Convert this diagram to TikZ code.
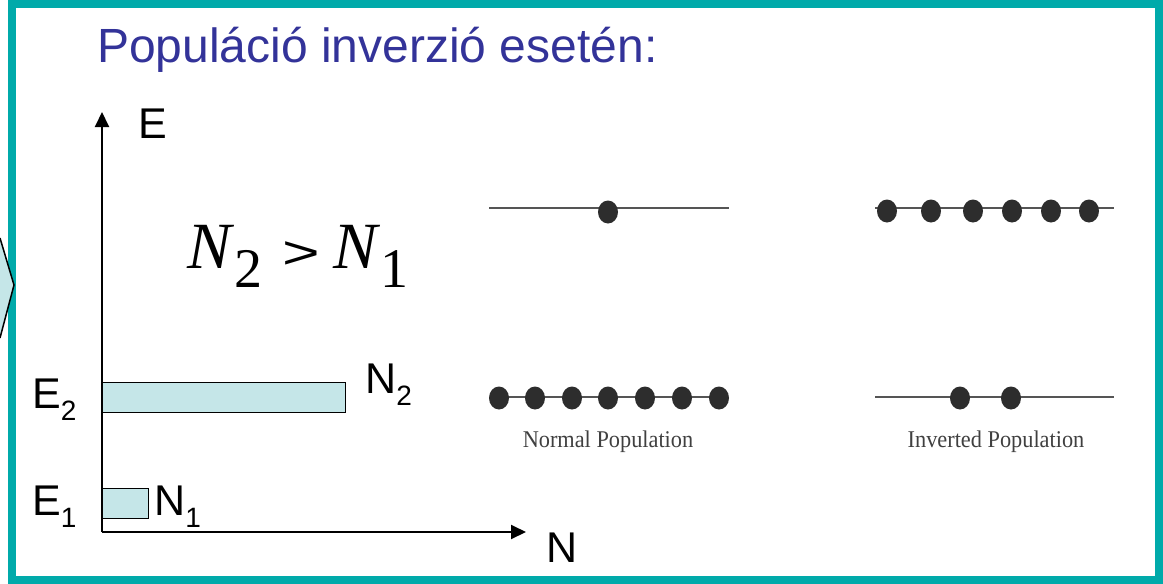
\documentclass[tikz,border=0pt]{standalone}
\usepackage{fontspec}
\setmainfont{Liberation Sans}
\newfontfamily\timesf{Liberation Serif}
\newfontfamily\arialf{Liberation Sans}
\usetikzlibrary{arrows.meta,shapes.geometric}
\definecolor{frameteal}{RGB}{0,170,170}
\definecolor{barcyan}{RGB}{197,230,232}
\definecolor{titleblue}{RGB}{51,51,153}
\definecolor{dotgray}{RGB}{45,45,45}
\definecolor{linegray}{RGB}{85,85,85}
\newcommand{\mysub}[1]{\raisebox{-12pt}{\fontsize{28}{28}\selectfont #1}}
\tikzset{
  lbl/.style={anchor=base west, inner sep=0pt, font=\fontsize{43}{43}\selectfont},
  bar/.style={draw=black, line width=1pt, fill=barcyan},
  axis/.style={line width=2pt, -{Triangle[length=15pt,width=14pt]}},
  lvl/.style={draw=linegray, line width=1.8pt},
  dot/.style={ellipse, fill=dotgray, minimum width=20pt, minimum height=23pt, inner sep=0pt},
  poplabel/.style={anchor=base, inner sep=0pt, text=black!75, xscale=0.93, font=\timesf\fontsize{24}{24}\selectfont},
}
\begin{document}
\begin{tikzpicture}[x=1pt,y=-1pt]
\useasboundingbox (0,0) rectangle (1163,584);
% frame
\draw[frameteal, line width=8pt] (12,4) rectangle (1159,580);
% chevron partly visible
\fill[barcyan] (0,238) -- (14,285) -- (0,338) -- cycle;
\draw[line width=1.5pt] (0,238) -- (14,285) -- (0,338);
% title
\node[anchor=base west, inner sep=0pt, text=titleblue, font=\fontsize{48}{48}\selectfont] (title) at (97,62) {Populáció inverzió esetén:};
% axes
\coordinate (O) at (102,532);
\coordinate (Etop) at (102,112);
\coordinate (Nend) at (526,532);
\draw[axis] (O) -- (Etop);
\draw[axis] (O) -- (Nend);
\node[lbl] (Elab) at (138,138) {E};
\node[lbl] (Nlab) at (546,562) {N};
% bars
\draw[bar] (102,382) rectangle (345,412);
\draw[bar] (102,488) rectangle (148,518);
\node[lbl] (E2) at (32,408) {E\mysub{2}};
\node[lbl] (N2) at (365,393) {N\mysub{2}};
\node[lbl] (E1) at (32,515) {E\mysub{1}};
\node[lbl] (N1) at (154,515) {N\mysub{1}};
% formula
\node[anchor=base west, inner sep=0pt, font=\timesf\fontsize{66}{66}\selectfont] (form) at (187,268)
  {\textit{N}\raisebox{-19pt}{\fontsize{56}{56}\selectfont 2}\hspace{20pt}\raisebox{0pt}{\scalebox{1.4}[1]{\arialf\fontsize{46}{46}\selectfont >}}\hspace{14pt}\textit{N}\raisebox{-19pt}{\fontsize{56}{56}\selectfont 1}};
% normal population
\draw[lvl] (489,208) coordinate (na) -- (729,208) coordinate (nb);
\node[dot] (nt1) at (608,212) {};
\draw[lvl] (499,397) -- (719,397);
\foreach \x [count=\i] in {499,535,572,608,645,682,719} \node[dot] (nd\i) at (\x,398) {};
\node[poplabel] (ncap) at (608,447) {Normal Population};
% inverted population
\draw[lvl] (875,208) -- (1114,208);
\foreach \x [count=\i] in {887,931,973,1012,1051,1089} \node[dot] (it\i) at (\x,211) {};
\draw[lvl] (875,397) -- (1114,397);
\node[dot] (ib1) at (960,398) {};
\node[dot] (ib2) at (1011,398) {};
\node[poplabel] (icap) at (996,447) {Inverted Population};
\end{tikzpicture}
\end{document}
